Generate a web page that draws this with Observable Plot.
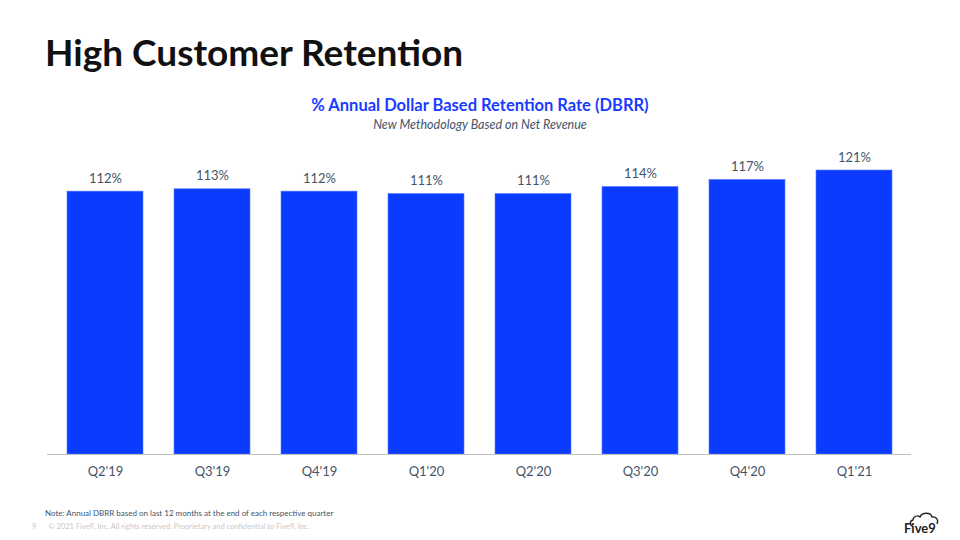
<!DOCTYPE html>
<html>
<head>
<meta charset="utf-8">
<script src="https://cdn.jsdelivr.net/npm/d3@7"></script>
<script src="https://cdn.jsdelivr.net/npm/@observablehq/plot@0.6"></script>
<style>
  html, body { margin: 0; padding: 0; background: #fff; }
  body { width: 960px; height: 540px; position: relative; overflow: hidden; font-family: Lato, "Open Sans", sans-serif; }
  #title { position: absolute; left: 45px; top: 29px; font-size: 37px; font-weight: 700; color: #111; letter-spacing: 0px; }
  #sub1 { position: absolute; left: 0; width: 960px; top: 95px; text-align: center; font-size: 16.5px; font-weight: 700; color: #1a3cff; }
  #sub2 { position: absolute; left: 0; width: 960px; top: 117px; text-align: center; font-size: 12.5px; font-style: italic; color: #44546a; }
  #chart { position: absolute; left: 0; top: 140px; }
  #note { position: absolute; left: 45px; top: 508px; font-size: 8px; color: #44546a; }
  #copy { position: absolute; left: 32px; top: 522px; font-size: 7.5px; color: #c8c8c8; }
  #copy span { margin-right: 12px; }
  #logo { position: absolute; left: 900px; top: 506px; }
</style>
</head>
<body>
<div id="title">High Customer Retention</div>
<div id="sub1">% Annual Dollar Based Retention Rate (DBRR)</div>
<div id="sub2">New Methodology Based on Net Revenue</div>
<div id="chart"></div>
<div id="note">Note: Annual DBRR based on last 12 months at the end of each respective quarter</div>
<div id="copy"><span>9</span>© 2021 Five9, Inc. All rights reserved. Proprietary and confidential to Five9, Inc.</div>
<svg id="logo" width="50" height="30" viewBox="0 0 50 30">
  <path d="M13 20 C10 20 9 15 13 14 C13 10 18 9 20 11 C22 6 31 6 32 11 C36 10 39 14 37 18" fill="none" stroke="#222" stroke-width="1.3"/>
  <text x="4" y="27" font-family="Lato, sans-serif" font-size="13" font-weight="700" fill="#222">Five9</text>
</svg>
<script>
const quarters = ["Q2'19", "Q3'19", "Q4'19", "Q1'20", "Q2'20", "Q3'20", "Q4'20", "Q1'21"];
const dbrr = [112, 113, 112, 111, 111, 114, 117, 121];

const data = quarters.map((q, i) => ({quarter: q, value: dbrr[i]}));

const chart = Plot.plot({
  width: 960,
  height: 345,
  marginLeft: 47,
  marginRight: 49,
  marginTop: 30,
  marginBottom: 31,
  style: {fontFamily: "Lato, 'Open Sans', sans-serif", fontSize: "13px", color: "#44546a", background: "transparent"},
  x: {domain: quarters, paddingInner: 0.29, paddingOuter: 0.15, label: null, tickSize: 0, tickPadding: 12},
  y: {domain: [0, 121], axis: null},
  marks: [
    Plot.barY(data, {x: "quarter", y: "value", fill: "#0b3bff", stroke: "#5a7dff", strokeWidth: 0.6}),
    Plot.ruleY([0], {stroke: "#bfbfbf", strokeWidth: 1.2}),
    Plot.text(data, {x: "quarter", y: "value", text: d => d.value + "%", dy: -13, fill: "#44546a", fontSize: 13})
  ]
});
document.getElementById("chart").appendChild(chart);
</script>
</body>
</html>
